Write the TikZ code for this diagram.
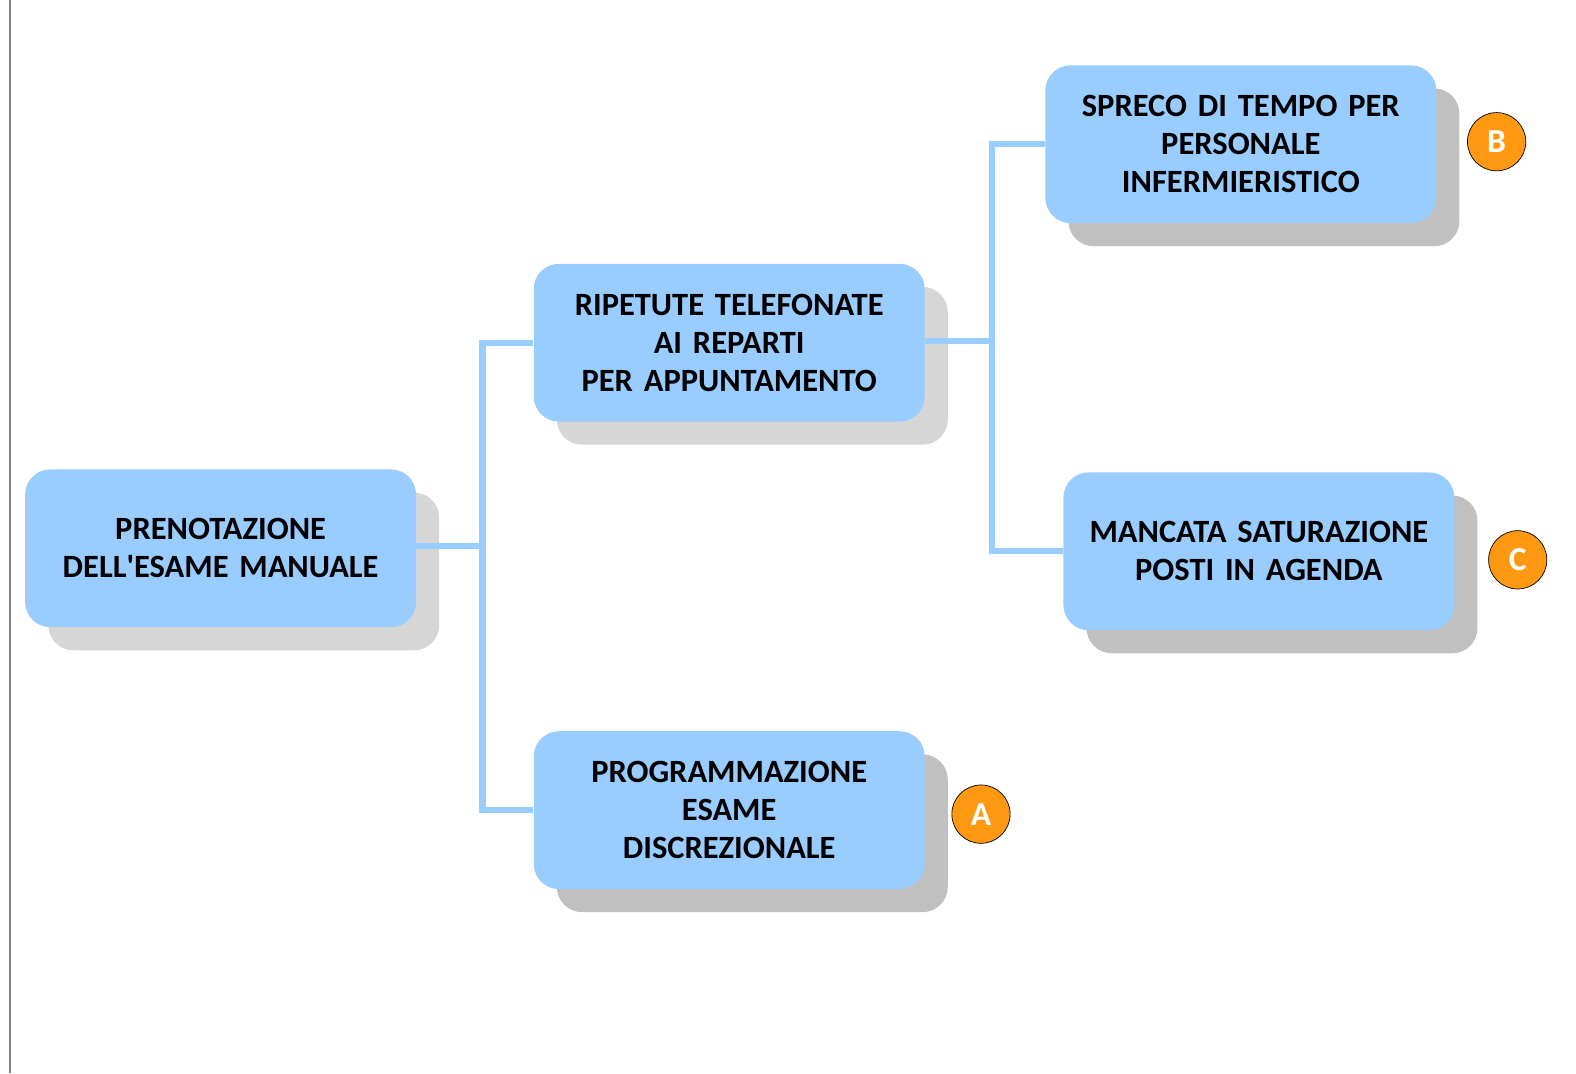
\documentclass[tikz,border=0pt]{standalone}
\usepackage{fontspec}
\setmainfont[WordSpace=0.75]{Carlito}
\usetikzlibrary{shadows,positioning}

\definecolor{boxblue}{HTML}{99CCFF}
\definecolor{shadowgray}{HTML}{C0C0C0}
\definecolor{paleshadow}{HTML}{D6D6D6}
\definecolor{markorange}{HTML}{FF9912}

\begin{document}
\begin{tikzpicture}[
    x=0.02cm, y=-0.02cm,
    box/.style={rectangle, rounded corners=0.5cm, fill=boxblue, text width=7.5cm, align=center,
        minimum width=7.78cm, minimum height=3.14cm, inner sep=0pt,
        font=\fontsize{18.4}{21.6}\selectfont\bfseries,
        drop shadow={shadow xshift=0.46cm, shadow yshift=-0.46cm, opacity=1, fill=#1}},
    box/.default=shadowgray,
    letterdot/.style={circle, draw=black, thin, fill=markorange, text=white, minimum size=1.16cm,
        inner sep=0pt, font=\fontsize{19}{19}\selectfont\bfseries},
    link/.style={draw=boxblue, line width=3.6pt}
]
\useasboundingbox (0,0) rectangle (1568,1068);
\draw[gray, line width=1.2pt] (10,0) -- (10,1068);

% Boxes
\node[box=paleshadow] (pren) at (219.5,545.5) {PRENOTAZIONE\\DELL\textquotesingle ESAME MANUALE};
\node[box=paleshadow] (rip) at (725.5,341) {RIPETUTE TELEFONATE\\AI REPARTI\\PER APPUNTAMENTO};
\node[box] (prog) at (725.5,806) {PROGRAMMAZIONE\\ESAME\\DISCREZIONALE};
\node[box] (spreco) at (1234.5,143.5) {SPRECO DI TEMPO PER\\PERSONALE\\INFERMIERISTICO};
\node[box] (manc) at (1252.5,548.5) {MANCATA SATURAZIONE\\POSTI IN AGENDA};

% Markers
\node[letterdot] (dotA) at (976,810) {A};
\node[letterdot] (dotB) at (1489,141) {B};
\node[letterdot] (dotC) at (1510,557) {C};

% Connectors
\coordinate (j1) at (480,543);
\coordinate (j2) at (987,339);
\draw[link] (pren.east |- j1) -- (j1) |- (rip.west);
\draw[link] (j1) |- (prog.west);
\draw[link] (rip.east |- j2) -- (j2) |- (spreco.west);
\draw[link] (j2) |- (manc.west);

\end{tikzpicture}
\end{document}
